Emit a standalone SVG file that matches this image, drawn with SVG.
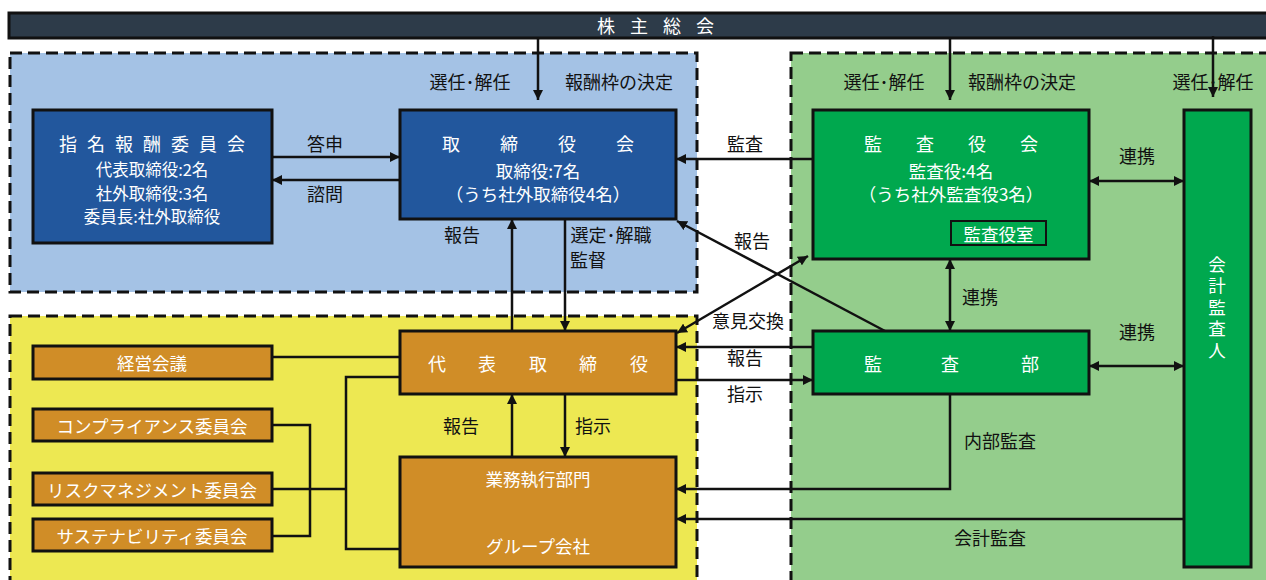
<svg xmlns="http://www.w3.org/2000/svg" width="1266" height="580" viewBox="0 0 1266 580">
<defs>
<style>
text{font-family:"Noto Sans CJK JP","Noto Sans",sans-serif;text-anchor:middle;dominant-baseline:central}
.lbl{font-size:18px;fill:#111}
.w{fill:#fff;font-size:17.5px}
.ws{fill:#fff;font-size:16.5px}
.wt{fill:#fff;font-size:18px}
.region{stroke:#111;stroke-width:3;stroke-dasharray:12 6}
.box{stroke:#111;stroke-width:3}
.blue{fill:#22579d}
.green{fill:#00a84e}
.orange{fill:#d08d27}
.c{fill:none;stroke:#111;stroke-width:2.5}
</style>
<marker id="ah" viewBox="0 0 10 10" refX="10" refY="5" markerWidth="10" markerHeight="10" markerUnits="userSpaceOnUse" orient="auto-start-reverse">
<path d="M0,0 L10,5 L0,10 z" fill="#111"/>
</marker>
</defs>
<rect width="1266" height="580" fill="#fff"/>
<g id="regions">
<rect class="region" x="10" y="53" width="687" height="239" fill="#a4c2e5"/>
<rect class="region" x="791" y="53" width="490" height="540" fill="#94cd8c"/>
<rect class="region" x="10" y="316" width="687" height="277" fill="#ede852"/>
</g>
<g id="shareholders">
<rect x="9" y="13" width="1270" height="25" fill="#2d3b49" stroke="#111" stroke-width="3"/>
<text class="wt" x="663" y="25" style="letter-spacing:15px">株主総会</text>
</g>
<g id="connectors">
<line class="c" x1="538" y1="38" x2="538" y2="100" marker-end="url(#ah)"/>
<line class="c" x1="950" y1="38" x2="950" y2="100" marker-end="url(#ah)"/>
<line class="c" x1="1213" y1="36" x2="1213" y2="97" marker-end="url(#ah)"/>
<line class="c" x1="272" y1="157" x2="400" y2="157" marker-end="url(#ah)"/>
<line class="c" x1="400" y1="180" x2="272" y2="180" marker-end="url(#ah)"/>
<line class="c" x1="813" y1="159" x2="676" y2="159" marker-end="url(#ah)"/>
<line class="c" x1="1089" y1="181" x2="1184" y2="181" marker-start="url(#ah)" marker-end="url(#ah)"/>
<line class="c" x1="950" y1="259" x2="950" y2="331" marker-start="url(#ah)" marker-end="url(#ah)"/>
<line class="c" x1="1089" y1="366" x2="1184" y2="366" marker-start="url(#ah)" marker-end="url(#ah)"/>
<line class="c" x1="885" y1="331" x2="677" y2="221" marker-end="url(#ah)"/>
<line class="c" x1="677" y1="333" x2="808" y2="256" marker-start="url(#ah)" marker-end="url(#ah)"/>
<line class="c" x1="813" y1="347" x2="676" y2="347" marker-end="url(#ah)"/>
<line class="c" x1="676" y1="380" x2="813" y2="380" marker-end="url(#ah)"/>
<polyline class="c" points="950,394 950,489 676,489" marker-end="url(#ah)"/>
<line class="c" x1="1184" y1="519" x2="676" y2="519" marker-end="url(#ah)"/>
<line class="c" x1="512" y1="331" x2="512" y2="219" marker-end="url(#ah)"/>
<line class="c" x1="565" y1="219" x2="565" y2="331" marker-end="url(#ah)"/>
<line class="c" x1="512" y1="457" x2="512" y2="394" marker-end="url(#ah)"/>
<line class="c" x1="565" y1="394" x2="565" y2="457" marker-end="url(#ah)"/>
<line class="c" x1="272" y1="357" x2="400" y2="357"/>
<polyline class="c" points="400,377 346,377 346,549 400,549"/>
<line class="c" x1="272" y1="489" x2="346" y2="489"/>
<polyline class="c" points="272,425 310,425 310,536 272,536"/>
</g>
<g id="labels">
<text class="lbl" x="470" y="81">選任･解任</text>
<text class="lbl" x="619" y="81">報酬枠の決定</text>
<text class="lbl" x="884" y="81">選任･解任</text>
<text class="lbl" x="1022" y="81">報酬枠の決定</text>
<text class="lbl" x="1213" y="81">選任･解任</text>
<text class="lbl" x="325" y="143">答申</text>
<text class="lbl" x="325" y="193">諮問</text>
<text class="lbl" x="745" y="143">監査</text>
<text class="lbl" x="1137" y="155">連携</text>
<text class="lbl" x="462" y="234">報告</text>
<text class="lbl" x="611" y="234">選定･解職</text>
<text class="lbl" x="588" y="259">監督</text>
<text class="lbl" x="752" y="240">報告</text>
<text class="lbl" x="980" y="296">連携</text>
<text class="lbl" x="748" y="320">意見交換</text>
<text class="lbl" x="1137" y="331">連携</text>
<text class="lbl" x="745" y="357">報告</text>
<text class="lbl" x="745" y="393">指示</text>
<text class="lbl" x="461" y="425">報告</text>
<text class="lbl" x="593" y="425">指示</text>
<text class="lbl" x="1000" y="440">内部監査</text>
<text class="lbl" x="990" y="537">会計監査</text>
</g>
<g id="nomination">
<rect class="box blue" x="33" y="110" width="239" height="133"/>
<text class="wt" x="157" y="143" style="letter-spacing:10px">指名報酬委員会</text>
<text class="ws" x="152" y="169">代表取締役:2名</text>
<text class="ws" x="152" y="192.5">社外取締役:3名</text>
<text class="ws" x="152" y="216">委員長:社外取締役</text>
</g>
<g id="board">
<rect class="box blue" x="400" y="110" width="276" height="109"/>
<text class="wt" x="558" y="143" style="letter-spacing:40px">取締役会</text>
<text class="w" x="538" y="170">取締役:7名</text>
<text class="w" x="538" y="193">（うち社外取締役4名）</text>
</g>
<g id="auditboard">
<rect class="box green" x="813" y="110" width="276" height="149"/>
<text class="wt" x="968" y="143" style="letter-spacing:34px">監査役会</text>
<text class="w" x="951" y="170">監査役:4名</text>
<text class="w" x="951" y="193">（うち社外監査役3名）</text>
<rect x="951" y="221" width="95" height="24" fill="#00a84e" stroke="#111" stroke-width="2"/>
<text class="w" x="998.5" y="233">監査役室</text>
</g>
<g id="accountant">
<rect class="box green" x="1184" y="110" width="67" height="457"/>
<text class="w" x="1217" y="309" writing-mode="vertical-rl" style="letter-spacing:4px">会計監査人</text>
</g>
<g id="auditdept">
<rect class="box green" x="813" y="331" width="276" height="63"/>
<text class="wt" x="873" y="363">監</text>
<text class="wt" x="950" y="363">査</text>
<text class="wt" x="1030" y="363">部</text>
</g>
<g id="president">
<rect class="box orange" x="400" y="331" width="276" height="63"/>
<text class="wt" x="437" y="363">代</text>
<text class="wt" x="487" y="363">表</text>
<text class="wt" x="538" y="363">取</text>
<text class="wt" x="588" y="363">締</text>
<text class="wt" x="639" y="363">役</text>
</g>
<g id="execution">
<rect class="box orange" x="400" y="457" width="276" height="110"/>
<text class="w" x="538" y="478">業務執行部門</text>
<text class="w" x="538" y="545">グループ会社</text>
</g>
<g id="mgmt">
<rect class="box orange" x="33" y="346" width="239" height="33"/>
<text class="w" x="152" y="362">経営会議</text>
</g>
<g id="compliance">
<rect class="box orange" x="33" y="409" width="239" height="32"/>
<text class="w" x="152" y="425">コンプライアンス委員会</text>
</g>
<g id="risk">
<rect class="box orange" x="33" y="473" width="239" height="32"/>
<text class="w" x="152" y="489">リスクマネジメント委員会</text>
</g>
<g id="sustain">
<rect class="box orange" x="33" y="519" width="239" height="32"/>
<text class="w" x="152" y="535">サステナビリティ委員会</text>
</g>
</svg>
